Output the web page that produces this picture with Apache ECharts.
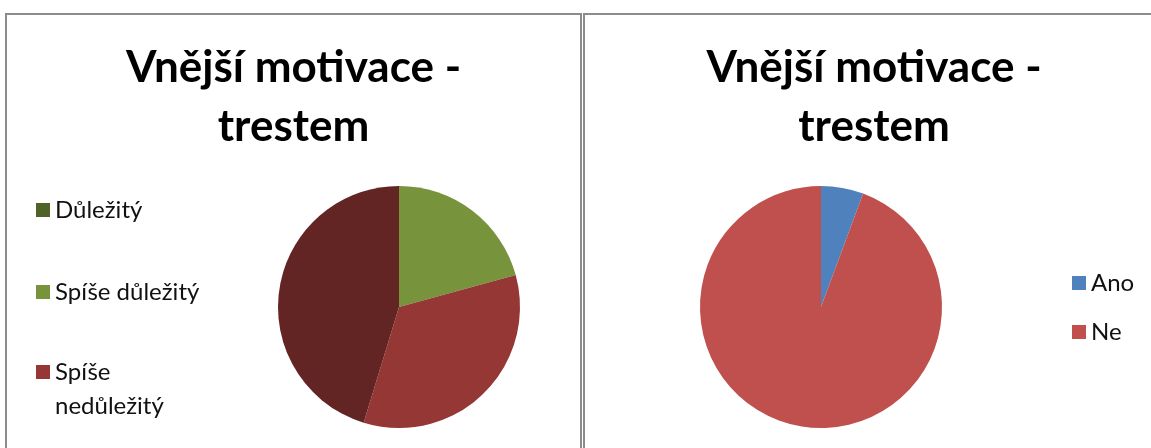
<!DOCTYPE html>
<html>
<head>
<meta charset="utf-8">
<script src="https://cdn.jsdelivr.net/npm/echarts@6/dist/echarts.min.js"></script>
<style>
  html, body { margin: 0; padding: 0; background: #fff; overflow: hidden; width: 1151px; height: 448px; }
  .panel { position: absolute; box-sizing: border-box; border: 2px solid #8c8c8c; background: #fff; }
  .chart { width: 100%; height: 100%; }
</style>
</head>
<body>
<div class="panel" style="left:5px; top:13px; width:577px; height:560px;"><div id="left" class="chart"></div></div>
<div class="panel" style="left:583px; top:13px; width:582px; height:560px;"><div id="right" class="chart"></div></div>
<script>
// Shared title for both charts
const chartTitle = 'Vnější motivace -\ntrestem';

// Importance of punishment as motivation
const importanceCategories = ['Důležitý', 'Spíše důležitý', 'Spíše nedůležitý', 'Nedůležitý'];
const importanceValues = [0, 11, 18, 24];
const importanceColors = ['#4F6228', '#77933C', '#953735', '#632523'];

// Yes / no answers
const answerCategories = ['Ano', 'Ne'];
const answerValues = [3, 50];
const answerColors = ['#4F81BD', '#C0504D'];

const FONT = 'Lato, "Open Sans", "DejaVu Sans", sans-serif';

function titleOption() {
  return {
    text: chartTitle,
    left: 'center',
    top: 23,
    padding: 0,
    textStyle: { fontFamily: FONT, fontSize: 44, fontWeight: 'bold', lineHeight: 59, color: '#000' }
  };
}

const legendText = { fontFamily: FONT, fontSize: 24, lineHeight: 34, color: '#111' };

const legendBase = {
  orient: 'vertical',
  icon: 'rect',
  itemWidth: 14,
  itemHeight: 14,
  padding: 0,
  selectedMode: false,
  textStyle: legendText
};

// Square marker whose box extends below it, so that a wrapped label
// keeps its first line level with the square.
const topAlignedSquare = 'path://M0 0h14v14H0z M0 48';

function pieSeries(names, values, colors, center) {
  return {
    type: 'pie',
    center: center,
    radius: 121,
    startAngle: 90,
    clockwise: true,
    label: { show: false },
    labelLine: { show: false },
    emphasis: { disabled: true },
    itemStyle: { borderWidth: 0 },
    data: names.map((n, i) => ({ name: n, value: values[i], itemStyle: { color: colors[i] } }))
  };
}

const left = echarts.init(document.getElementById('left'), null, { renderer: 'canvas' });
left.setOption({
  animation: false,
  title: titleOption(),
  legend: [
    Object.assign({}, legendBase, {
      left: 29, top: 178, itemGap: 48,
      data: importanceCategories.slice(0, 2)
    }),
    Object.assign({}, legendBase, {
      left: 29, top: 340, itemGap: 48,
      itemHeight: 48,
      icon: topAlignedSquare,
      formatter: name => name === 'Spíše nedůležitý' ? 'Spíše\nnedůležitý' : name,
      data: importanceCategories.slice(2)
    })
  ],
  series: [pieSeries(importanceCategories, importanceValues, importanceColors, [392, 292])]
});

const right = echarts.init(document.getElementById('right'), null, { renderer: 'canvas' });
right.setOption({
  animation: false,
  title: titleOption(),
  legend: Object.assign({}, legendBase, {
    left: 487, top: 251, itemGap: 15,
    data: answerCategories
  }),
  series: [pieSeries(answerCategories, answerValues, answerColors, [236, 292])]
});
</script>
</body>
</html>
